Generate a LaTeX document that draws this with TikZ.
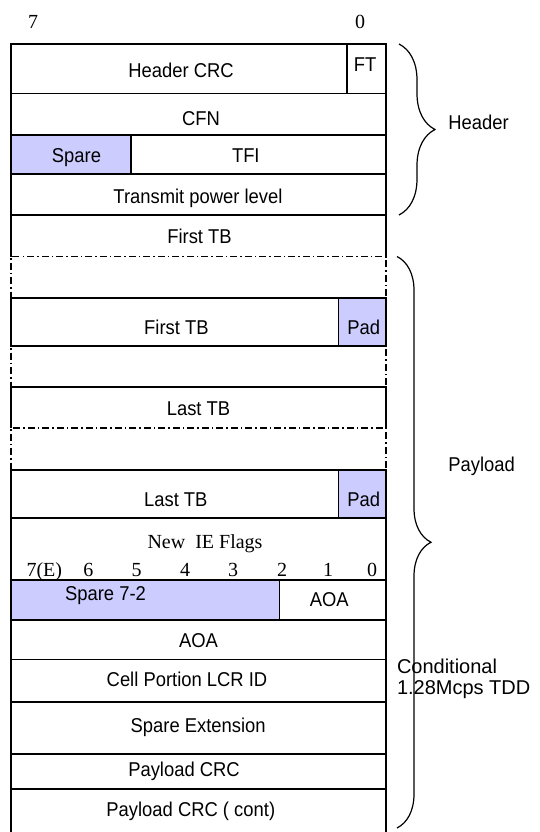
\documentclass[tikz,border=0pt]{standalone}
\usepackage{fontspec}
\setmainfont{Liberation Serif}
\newfontfamily\fieldfont[FakeStretch=0.92]{Liberation Sans}
\newfontfamily\notefont{Liberation Sans}
\usetikzlibrary{calc,decorations.pathreplacing}
\definecolor{spareBlue}{RGB}{204,204,255}

\begin{document}
\begin{tikzpicture}[
				      x=1pt, y=-1pt, line width=1.2pt,
				      every node/.style={inner sep=0pt, outer sep=0pt},
				      fieldBox/.style={draw, shape=rectangle},
				      spareBox/.style={draw, shape=rectangle, fill=spareBlue},
				      gapBox/.style={draw, shape=rectangle, dash pattern=on 7pt off 3pt on 1.5pt off 3pt},  % dash-dot rows
				      fieldText/.style={anchor=base, font=\fieldfont\fontsize{20}{24}\selectfont},
				      bitText/.style={anchor=base, font=\fontsize{20}{24}\selectfont},
				      sideText/.style={anchor=base west, font=\notefont\fontsize{20}{24}\selectfont},
				      frameBrace/.style={decorate, decoration={brace, amplitude=#1}}
			      ]
			      \useasboundingbox (0,0) rectangle (539,832);

			      % Bit numbers on top
			      \node[bitText] (msb) at (33,28.5) {7};
			      \node[bitText] (lsb) at (360,28.5) {0};

			      % Header rows
			      \node[fieldBox, minimum width=336pt, minimum height=49.5pt] (hdrCRC) at (179,68.75) {};
			      \node[fieldText] (hdrCRCt) at (181,78) {Header CRC};
			      \node[fieldBox, minimum width=39pt, minimum height=49.5pt] (ft) at (366.5,68.75) {};
			      \node[fieldText] (ftt) at (365,71.7) {FT};
			      \node[fieldBox, minimum width=375pt, minimum height=41.5pt] (cfn) at (198.5,114.25) {};
			      \node[fieldText] (cfnt) at (201,126) {CFN};
			      \node[spareBox, minimum width=120pt, minimum height=39pt] (spare) at (71,154.5) {};
			      \node[fieldText] (sparet) at (76.5,162) {Spare};
			      \node[fieldBox, minimum width=255pt, minimum height=39pt] (tfi) at (258.5,154.5) {};
			      \node[fieldText] (tfit) at (245.8,162) {TFI};
			      \node[fieldBox, minimum width=375pt, minimum height=41pt] (tpl) at (198.5,194.5) {};
			      \node[fieldText] (tplt) at (198,203.5) {Transmit power level};

			      % Payload rows
			      \node[shape=rectangle, minimum width=375pt, minimum height=41.5pt] (tb1) at (198.5,235.75) {};
			      \draw (tb1.south west) -- (tb1.north west) -- (tb1.north east) -- (tb1.south east);
			      \node[fieldText] (tb1t) at (199.5,243.5) {First TB};
			      \node[gapBox, minimum width=375pt, minimum height=41.5pt] (gap1) at (198.5,277.25) {};
			      \node[fieldBox, minimum width=327.5pt, minimum height=48pt] (tb2) at (174.75,322) {};
			      \node[fieldText] (tb2t) at (176.4,334) {First TB};
			      \node[spareBox, minimum width=47.5pt, minimum height=48pt] (pad1) at (362.25,322) {};
			      \node[fieldText] (pad1t) at (363.8,334) {Pad};
			      \node[gapBox, minimum width=375pt, minimum height=41pt] (gap2) at (198.5,366.5) {};
			      \node[shape=rectangle, minimum width=375pt, minimum height=41pt] (tb3) at (198.5,407.5) {};
			      \draw (tb3.south west) -- (tb3.north west) -- (tb3.north east) -- (tb3.south east);
			      \node[fieldText] (tb3t) at (198.5,415) {Last TB};
			      \node[gapBox, minimum width=375pt, minimum height=42pt] (gap3) at (198.5,449) {};
			      \node[fieldBox, minimum width=327.5pt, minimum height=48pt] (tb4) at (174.75,494) {};
			      \node[fieldText] (tb4t) at (175.8,506) {Last TB};
			      \node[spareBox, minimum width=47.5pt, minimum height=48pt] (pad2) at (362.25,494) {};
			      \node[fieldText] (pad2t) at (363.8,506) {Pad};

			      % New IE flags with bit numbers
			      \node[fieldBox, minimum width=375pt, minimum height=62pt] (flags) at (198.5,549) {};
			      \node[bitText] (flagst) at (205,548) {New~~IE Flags};
			      \node[bitText] (f7) at (44.3,576) {7(E)};
			      \node[bitText] (f6) at (88.3,576) {6};
			      \node[bitText] (f5) at (136.7,576) {5};
			      \node[bitText] (f4) at (185,576) {4};
			      \node[bitText] (f3) at (233,576) {3};
			      \node[bitText] (f2) at (282,576) {2};
			      \node[bitText] (f1) at (328,576) {1};
			      \node[bitText] (f0) at (372,576) {0};

			      % Conditional 1.28Mcps TDD rows
			      \node[spareBox, minimum width=268.5pt, minimum height=40pt] (spare72) at (145.25,600) {};
			      \node[fieldText] (spare72t) at (105.5,600) {Spare 7-2};
			      \node[fieldBox, minimum width=106.5pt, minimum height=40pt] (aoa1) at (332.75,600) {};
			      \node[fieldText] (aoa1t) at (329.2,606) {AOA};
			      \node[fieldBox, minimum width=375pt, minimum height=39.5pt] (aoa2) at (198.5,639.75) {};
			      \node[fieldText] (aoa2t) at (198.5,647.5) {AOA};
			      \node[fieldBox, minimum width=375pt, minimum height=42.5pt] (cellp) at (198.5,680.75) {};
			      \node[fieldText] (cellpt) at (187,686) {Cell Portion LCR ID};
			      \node[fieldBox, minimum width=375pt, minimum height=52pt] (spext) at (198.5,728) {};
			      \node[fieldText] (spextt) at (198.2,732.7) {Spare Extension};
			      \node[fieldBox, minimum width=375pt, minimum height=35pt] (pcrc) at (198.5,771.5) {};
			      \node[fieldText] (pcrct) at (184,776.7) {Payload CRC};
			      \node[fieldBox, minimum width=375pt, minimum height=56pt] (pcrc2) at (198.5,817) {};
			      \node[fieldText] (pcrc2t) at (190.8,816) {Payload CRC ( cont)};

			      % Braces and their labels
			      \coordinate (payEnd) at (397,828);
			      \draw[frameBrace=36pt] ([xshift=13pt]ft.north east) -- ([xshift=13pt]tpl.south east);
			      \draw[frameBrace=34pt] ([xshift=11pt]tb1.south east) -- (payEnd);
			      \node[fieldText] (hdrLbl) at (478.5,129.3) {Header};
			      \node[fieldText] (payLbl) at (481.6,471.7) {Payload};
			      \node[sideText] (condLbl) at (397,673.3) {Conditional};
			      \node[sideText] (tddLbl) at (397,694) {1.28Mcps TDD};
		      \end{tikzpicture}
\end{document}
